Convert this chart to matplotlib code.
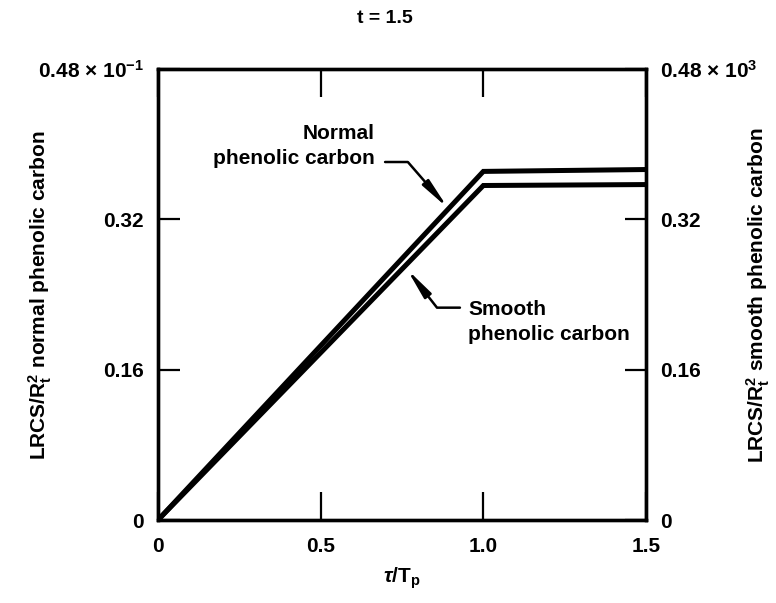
import numpy as np
import matplotlib
matplotlib.use("Agg")
import matplotlib.pyplot as plt

plt.rcParams['font.family'] = ['Liberation Sans', 'DejaVu Sans']
plt.rcParams['font.weight'] = 'bold'
plt.rcParams['mathtext.fontset'] = 'custom'
plt.rcParams['mathtext.rm'] = 'Liberation Sans:bold'
plt.rcParams['mathtext.it'] = 'Liberation Sans:italic:bold'
plt.rcParams['mathtext.bf'] = 'Liberation Sans:bold'
plt.rcParams['mathtext.default'] = 'regular'

# tau/Tp and LRCS/Rt^2 for the two materials
tau = [0.0, 1.0, 1.5]
normal_lrcs = [0.0, 0.371, 0.373]
smooth_lrcs = [0.0, 0.356, 0.357]

xticks = [0, 0.5, 1.0, 1.5]
xtick_labels = ['0', '0.5', '1.0', '1.5']
yticks = [0, 0.16, 0.32, 0.48]
left_labels = ['0', '0.16', '0.32', '0.48 × 10$^{-1}$']
right_labels = ['0', '0.16', '0.32', '0.48 × 10$^{3}$']

fs = 15

fig = plt.figure(figsize=(7.76, 6.03), dpi=100)
ax = fig.add_axes([0.2036, 0.1376, 0.6289, 0.748])

ax.plot(tau, normal_lrcs, color='black', lw=3.6, solid_joinstyle='miter')
ax.plot(tau, smooth_lrcs, color='black', lw=3.6, solid_joinstyle='miter')

ax.set_xlim(0, 1.5)
ax.set_ylim(0, 0.48)
ax.set_xticks(xticks)
ax.set_xticklabels(xtick_labels, fontsize=fs, fontweight='bold')
ax.set_yticks(yticks)
ax.set_yticklabels(left_labels, fontsize=fs, fontweight='bold')

ax2 = ax.twinx()
ax2.set_ylim(0, 0.48)
ax2.set_yticks(yticks)
ax2.set_yticklabels(right_labels, fontsize=fs, fontweight='bold')
ax2.tick_params(direction='in', length=15, width=1.6, pad=10)

ax.tick_params(direction='in', length=16, width=1.6, pad=10)
ax.tick_params(axis='x', top=True, pad=12, length=20)

for a in (ax, ax2):
    for s in a.spines.values():
        s.set_linewidth(2.4)

# callouts
ax.text(0.667, 0.398, 'Normal\nphenolic carbon', ha='right', va='center',
        fontsize=fs, fontweight='bold', linespacing=1.4, multialignment='right')
ax.annotate('', xy=(0.891, 0.332), xytext=(0.698, 0.381),
            arrowprops=dict(arrowstyle='-|>,head_length=1.0,head_width=0.14',
                            connectionstyle='angle,angleA=0,angleB=131,rad=0',
                            color='black', lw=1.8, shrinkA=0, shrinkB=0,
                            mutation_scale=18))

ax.text(0.953, 0.211, 'Smooth\nphenolic carbon', ha='left', va='center',
        fontsize=fs, fontweight='bold', linespacing=1.4)
ax.annotate('', xy=(0.765, 0.267), xytext=(0.928, 0.226),
            arrowprops=dict(arrowstyle='-|>,head_length=1.0,head_width=0.14',
                            connectionstyle='angle,angleA=0,angleB=-52,rad=0',
                            color='black', lw=1.8, shrinkA=0, shrinkB=0,
                            mutation_scale=18))

fig.text(0.496, 0.970, 't = 1.5', ha='center', va='center', fontsize=14, fontweight='bold')
fig.text(0.518, 0.041, r'$\it{\tau}$/T$_\mathrm{p}$', ha='center', va='center',
         fontsize=fs, fontweight='bold')
fig.text(0.052, 0.511, 'LRCS/R$_t^2$ normal phenolic carbon', rotation=90,
         ha='center', va='center', fontsize=fs, fontweight='bold')
fig.text(0.977, 0.511, 'LRCS/R$_t^2$ smooth phenolic carbon', rotation=90,
         ha='center', va='center', fontsize=fs, fontweight='bold')

fig.savefig('out.png', dpi=100)
